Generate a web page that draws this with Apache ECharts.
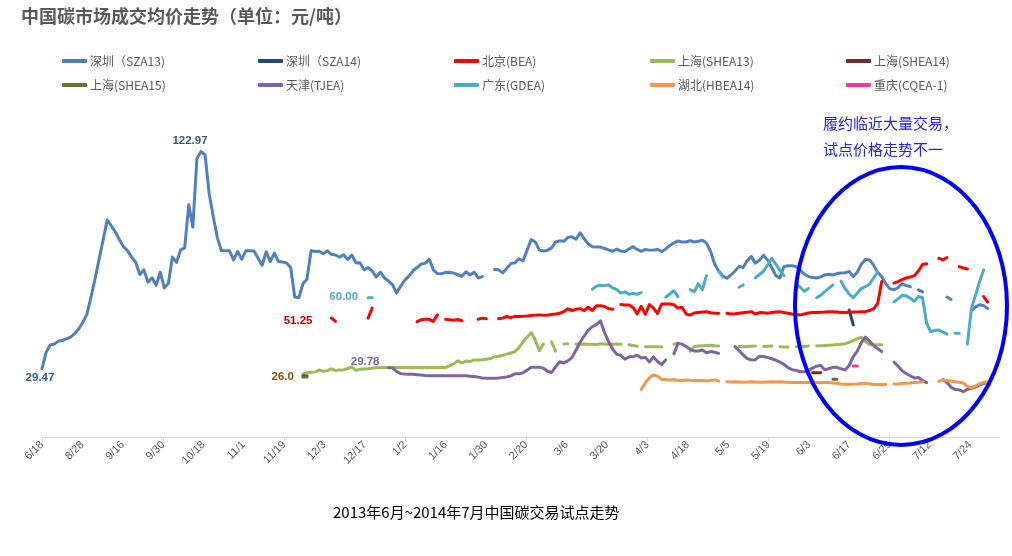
<!DOCTYPE html>
<html>
<head>
<meta charset="utf-8">
<script src="https://cdn.jsdelivr.net/npm/echarts@6/dist/echarts.min.js"></script>
<style>
html,body{margin:0;padding:0;background:#fff;}
#chart{width:1012px;height:556px;}
</style>
</head>
<body>
<div id="chart"></div>
<script>
// ---- tick labels (every label step along the day index axis) ----
const tickLabels = ['6/18','8/28','9/16','9/30','10/18','11/1','11/19','12/3','12/17','1/2','1/16','1/30','2/20','3/6','3/20','4/3','4/18','5/5','5/19','6/3','6/17','6/29','7/12','7/24'];
const labelStep = 9.9;   // day-index units between tick labels
const tickStep = 29.7;   // day-index units between tick marks
const N = 236;

// ---- series values: [startIndex, [values...]] segments, gaps are missing days ----
const SZA13 = [
  [0, [29.47,36.5,39.6,40,41.3,41.6,42.3,43,44.5,46.5,
       49.3,52.8,60,68,76.5,85,93.5,91,88.3,85,
       82,80.2,77.5,75.2,70,72,66.7,68.6,65.3,71,
       64.2,66.2,77.5,75.2,80.6,81.5,100,90.4,120,122.97,
       121.5,105,95,86,80.2,80.2,80.2,76.3,79.9,76.6,
       80.2,80.2,80.1,77,74,79.8,75.6,79.2,75.6,75.4,
       75,73,60.3,60,66,68,80.2,79.9,80,78.9,
       80.2,78.7,78.4,77.4,78.5,76.5,78.4,75,75.1,72,
       73,71.5,68.9,71,68.5,67.2,65.5,62,65,67.6,
       69.3,71.6,73,74.5,74.8,76.5,72,70.4,70.3,70.9,
       71,70.6,69.9,69.2,71.2,69.8,71,68.5,69.1]],
  [111, [72.2,72,70.7,72.6,74.7,75,76.8,75.8,80.5,85.1,
       84,80.5,80.1,80.4,81.5,84,84.5,84.3,86,86.3,
       85.2,88,85.4,83.2,82,81.8,81.8,81.2,80.6,80,
       80.9,80,79.9,81,82,80.8,80,80.8,80.5,80.6,
       80.8,79.9,81,82.5,83.6,84.4,84,84,84.6,84,
       84.3,84.8,83.5,80,74.5,71.5,69.5,68.4,69.8,71.5,
       73.5,73,76,77.7,74.9,76.2,78.3,76.2,73,69.5,
       68.5,73.4,73.8,73.8,73.4,71.8,70.2,69.1,68.7,68.5,
       69,69.8,70.1,69.8,70.4,70.6,70.8,71.3,69.1,71,
       74.5,76.5,76.3,74,71,69,66,63.8,63.4,64.4,
       66,65.2,64.8]],
  [215, [63.4,62.5]],
  [222, [60.3,59.2]],
  [228, [54.5,56,57,56.6,55.3]]
];
const SZA14 = [[198, [54.7,48.3]]];
const BEA = [
  [71, [51.25,49.8]],
  [80, [51.2,55.5]],
  [92, [49.7,50.5,50.7,50.7,49.8,52.6]],
  [99, [50.7,50.5,50.3,50.6,50.1]],
  [107, [50.7,51.2,50.9]],
  [112, [50.9,51.2,51.9,51.4,51.9,51.9,52,52.1,52.3,52.5,
         52.6,52.5,52.5,52.8,53,53.3,54,55.2,54.5,55,
         55.3,54.4,55.9,54.5,56.5,56.5,56.2,55.3,55]],
  [142, [57.1,56.9,56.9,55.8,53,56.3,52.8,57,55.5,53.2,
         57.3,57.3,57.3,57,55.5,55.9,53,52.5,53.4,53.6,
         53.8,54,53.5,53.3,53.3]],
  [168, [53.3,53,53.1,53.3,53.5,53.7,54,53,53.6,53.5,
         53.3,53.6,53.8,54,53.6,53.3,53,52.8,52.6,53,
         53.4,53.6,53.6,53.7,53.8,54,54,53.8,53.6,53.6,
         53.7,53.8,53.9,54,54,54.5,55.2,57.5,67]],
  [209, [66.3,66.9,67.8,68.5,68.9,69.5,71.5,74.3,74.6]],
  [220, [77,76.3,77.3]],
  [225, [73.4,72.8,72.4]],
  [231, [60.5,58.1]]
];
const SHEA13 = [
  [64, [27.2,27.6,27.9,28,28.9,28.3,28.6,29.4,28.6,28.9,
        28.9,29.5,30.2,28.7,29.2,29.3,29.4,29.6,29.8,29.9,
        29.9,29.9,29.9,29.9,29.9,29.9,29.9,29.9,29.9,29.9,
        29.9,29.9,29.9,29.9,29.9,29.9,30.8,31.5,32.8,31.9,
        32.7,32.5,33.2,33.2,33.3,33.5,33.8,34.5,34.8,35.2,
        35.7,36.2,36.8,38.5,41,43,45,41.8,37.2,40.1]],
  [125, [41,37]],
  [128, [40.1,40.2]],
  [131, [40.1,40,40.1,40,40,39.8,40.2,40.1,40,40,40.1,40]],
  [144, [39.7,39.4,39.1]],
  [148, [38.9,38.9,38.9,38.9,38.9]],
  [155, [40,40.5]],
  [159, [37,39,39.2,39.3,39.4,39.5,39.3,39.2]],
  [171, [39,38.9,39,39.1,39.2]],
  [177, [39,39.1,39.2]],
  [181, [38.9,38.8,38.8]],
  [185, [38.9,39,39,39.2]],
  [190, [39.2,39.3,39.4,39.5,39.6,39.8,40,40.2,40.8,41.5,42.3,43,41,39.8,39.7,39.7,39.7]]
];
const SHEA14 = [[64, [26.3,26.3]], [189, [27.7,27.7,27.7]]];
const SHEA15 = [[64, [25.8,25.8]], [194, [24.9,24.9]]];
const TJEA = [
  [85, [29.78,29.8,28.2,27.3,27.1,27,27,26.8,26.7,26.5,
        26.4,26.4,26.4,26.4,26.4,26.4,26.4,26.4,26.4,26.4,
        26.2,26.1,25.8,25.4,25.3,25.3,25.3,25.4,25.6,25.9,
        26.3,27.2,27.2,27.7,28.8,30,30.1,30.1,29.6,28.3,
        27.8,30.2,32.4,31.9,32.8,34.2,37.5,40.8,43.5,46,
        47.5,48.4,50,45,41,37.8,35.6,35.2,33.5,34.6,
        34.6,35.2,34,34.3,32.3,34.5,32.5,31.2,33.2]],
  [155, [35.8,40.3,40,39,37.8,37,37,37.5,36.3,36.8,36.5,36]],
  [170, [38.9,37.2,35.4,33.8,33.2,33.3,34.8,34.7,34.2,33.7,
         33.1,32.3,31.3,29.9,29,28.7,28.1,28.1,28.6,29.7,
         30.5,30.9,29,29.4,30,30,29.4,28.9,30.8,34.6,
         37,40.7,43,41.3,39.4,38,36.8]],
  [209, [32.3,30.5,28.5,27.3,26.4,25.4,25.6,24.3,23.4]],
  [221, [24.8,23.5,21.4,20.5,20.3,19.5,20.6,21,21.5,22.4,23,23.5]]
];
const GDEA = [
  [80, [60,60]],
  [135, [63.6,65,65.4,65.2,65.5,64.2,63.5,62,62.5,61.5,61.8,61.5,62.2]],
  [153, [60.2,61.6,63,60.5]],
  [159, [63.5,62.5,66,63.5,69.5]],
  [166, [71.5,68.8]],
  [171, [64.5,65.5]],
  [175, [68.5,70,71.5,74,77,74.5,71.8,69.5]],
  [185, [65.8,64.5,62.8,64]],
  [190, [60,61,62.6,64,65.5]],
  [196, [67.2,64,61.6,60,62,64,64.8,65.8,68.5,71]],
  [209, [58.2,59.5,61,60.8,59.8,58.5,60.5,60,49,45.3,45.9,46.1,45.2,44.3]],
  [224, [44.7,44.7]],
  [227, [40,55.5,61,67,72]]
];
const HBEA14 = [
  [147, [20.5,23.3,25.6,26.7,26.2,24.8,24.8,24.5,24.8,24.4,
         24.3,24.6,24.4,24.3,24.3,24.3,24.1,24.4,24.6,24.1]],
  [168, [23.8,23.7,23.8,23.7,23.6,23.7,23.8,23.7,23.6,23.6,
         23.7,23.8,23.7,23.8,23.7,23.6,23.5,23.5,23.5,23.5,
         23.6,23.5,23.5,23.4,23.5,23.5,23.3,23.1,22.8,22.7,
         22.7,22.7,22.8,23,23.1,22.9,22.6,22.6,22.7,22.6]],
  [209, [22.8,22.8,23,23.1,23.3,23.5,23.6,23.8]],
  [220, [24,24.6,24.3,24,23.8,23.6,23.3,21.8,21.2,22,23,23.5,23.8]]
];
const CQEA = [[199, [30.6,30.6]]];

const seriesDefs = [
  {name:'深圳（SZA13)', segs:SZA13, color:'#4F81BD'},
  {name:'深圳（SZA14)', segs:SZA14, color:'#1F497D'},
  {name:'北京(BEA)', segs:BEA, color:'#FF0000'},
  {name:'上海(SHEA13)', segs:SHEA13, color:'#9BBB59'},
  {name:'上海(SHEA14)', segs:SHEA14, color:'#772C2A'},
  {name:'上海(SHEA15)', segs:SHEA15, color:'#5F7530'},
  {name:'天津(TJEA)', segs:TJEA, color:'#8064A2'},
  {name:'广东(GDEA)', segs:GDEA, color:'#4BACC6'},
  {name:'湖北(HBEA14)', segs:HBEA14, color:'#F79646'},
  {name:'重庆(CQEA-1)', segs:CQEA, color:'#FF3399'}
];

// labelled points (series name, day index, text) and their label styles
const pointLabels = [
  {series:'深圳（SZA13)', index:0, text:'29.47', color:'#31598C', position:'bottom', distance:2, offset:[-2,0]},
  {series:'深圳（SZA13)', index:39, text:'122.97', color:'#31598C', position:'top', distance:4, offset:[-11,0]},
  {series:'北京(BEA)', index:71, text:'51.25', color:'#C00000', position:'left', distance:18, offset:[0,3]},
  {series:'上海(SHEA15)', index:64, text:'26.0', color:'#984807', position:'left', distance:8, offset:[0,0]},
  {series:'广东(GDEA)', index:80, text:'60.00', color:'#4BACC6', position:'left', distance:9, offset:[0,-1]},
  {series:'天津(TJEA)', index:85, text:'29.78', color:'#8064A2', position:'left', distance:8, offset:[0,-6]}
];

function buildArray(segs){
  const arr = new Array(N).fill(null);
  segs.forEach(function(s){ s[1].forEach(function(v,j){ arr[s[0]+j] = v; }); });
  return arr;
}

const series = seriesDefs.map(function(def){
  const arr = buildArray(def.segs);
  const data = arr.map(function(v,i){
    const lab = pointLabels.find(function(p){ return p.series===def.name && p.index===i; });
    if (lab && v !== null) {
      return {
        value:[i, v], symbol:'circle', symbolSize:2,
        itemStyle:{color:def.color},
        label:{show:true, formatter:lab.text, position:lab.position, distance:lab.distance,
               offset:lab.offset, color:lab.color, fontSize:11.5, fontWeight:'bold',
               fontFamily:'Liberation Sans, Arial, sans-serif'}
      };
    }
    return [i, v === null ? '-' : v];
  });
  return {
    name:def.name, type:'line', data:data,
    symbol:'none', showSymbol:true, connectNulls:false,
    itemStyle:{color:def.color},
    lineStyle:{color:def.color, width:3, cap:'round', join:'round'},
    emphasis:{disabled:true}, silent:true, animation:false
  };
});

const legendLeft = [62, 258, 454, 650, 846];
const legendTop = [55, 79];
const legends = seriesDefs.map(function(def, k){
  return {
    data:[def.name], left:legendLeft[k%5], top:legendTop[Math.floor(k/5)],
    icon:'roundRect', itemWidth:25, itemHeight:4, itemGap:0, padding:0,
    selectedMode:false,
    textStyle:{color:'#595959', fontSize:12, fontFamily:'Noto Sans CJK SC, sans-serif', padding:[0,0,0,-2]}
  };
});

const labelValues = tickLabels.map(function(_,k){ return +(k*labelStep).toFixed(2); });
const tickValues = [];
for (let k = 0; k*tickStep <= 235; k++) tickValues.push(+(k*tickStep).toFixed(2));

const chart = echarts.init(document.getElementById('chart'), null, {renderer:'canvas'});
chart.setOption({
  animation:false,
  backgroundColor:'#ffffff',
  title:{
    text:'中国碳市场成交均价走势（单位：元/吨）', left:16, top:2,
    textStyle:{color:'#595959', fontSize:18, fontWeight:'bold', fontFamily:'Noto Sans CJK SC, sans-serif'}
  },
  legend:legends,
  grid:{left:42, right:12, top:112, bottom:119, containLabel:false},
  xAxis:{
    type:'value', min:0, max:235,
    axisLine:{show:true, lineStyle:{color:'#D9D9D9', width:1}},
    axisTick:{show:true, length:4, customValues:tickValues, lineStyle:{color:'#D9D9D9'}},
    axisLabel:{
      show:true, rotate:45, margin:6, customValues:labelValues,
      color:'#595959', fontSize:11, fontFamily:'Liberation Sans, Arial, sans-serif',
      formatter:function(v){ const k = Math.round(v/labelStep); return tickLabels[k] || ''; }
    },
    splitLine:{show:false}
  },
  yAxis:{type:'value', min:0, max:140, show:false, splitLine:{show:false}},
  series:series,
  graphic:[
    {type:'ellipse', shape:{cx:901, cy:306, rx:106, ry:139}, silent:true, z:100,
     style:{fill:'none', stroke:'#0000FF', lineWidth:4}},
    {type:'text', left:823, top:116, z:100, silent:true,
     style:{text:'履约临近大量交易，', fill:'#2222EE', fontSize:15, fontFamily:'Noto Sans CJK SC, sans-serif'}},
    {type:'text', left:823, top:142, z:100, silent:true,
     style:{text:'试点价格走势不一', fill:'#2222EE', fontSize:15, fontFamily:'Noto Sans CJK SC, sans-serif'}},
    {type:'text', left:333, top:505, z:100, silent:true,
     style:{text:'2013年6月~2014年7月中国碳交易试点走势', fill:'#000000', fontSize:15, fontFamily:'Noto Sans CJK SC, sans-serif'}}
  ]
});
</script>
</body>
</html>
